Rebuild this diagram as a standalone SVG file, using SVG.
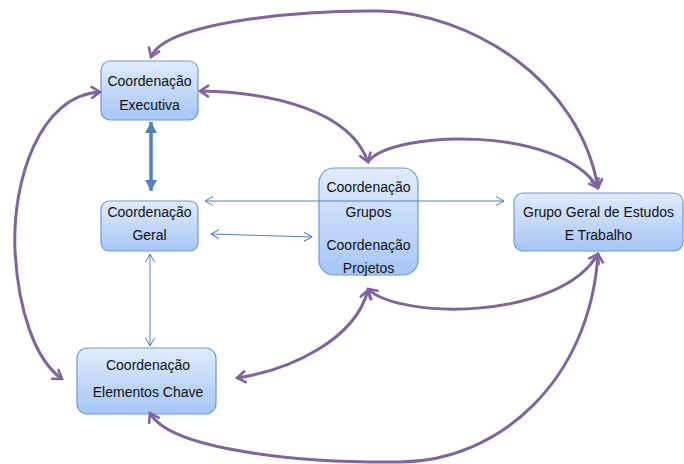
<svg xmlns="http://www.w3.org/2000/svg" width="684" height="464" viewBox="0 0 684 464">
<style>
.box{fill:url(#g);stroke:#6f9ad5;stroke-width:1.2}
.t{font-family:"Liberation Sans",Arial,sans-serif;font-size:14px;fill:#111;text-anchor:middle}
.p{fill:none;stroke:#8064a2;stroke-width:3;marker-start:url(#ap);marker-end:url(#ap)}
.pe{fill:none;stroke:#8064a2;stroke-width:3;marker-end:url(#ap)}
.b{fill:none;stroke:#4f81bd;stroke-width:1;marker-start:url(#ab);marker-end:url(#ab)}
.bt{fill:none;stroke:#4f81bd;stroke-width:3.5;marker-start:url(#abt);marker-end:url(#abt)}
</style>
<defs>
<linearGradient id="g" x1="0" y1="0" x2="0" y2="1">
<stop offset="0" stop-color="#e1ebfb"/>
<stop offset="1" stop-color="#a6c6f6"/>
</linearGradient>
<marker id="ap" markerUnits="userSpaceOnUse" viewBox="-12 -8 14 16" markerWidth="14" markerHeight="16" refX="0" refY="0" orient="auto-start-reverse">
<path d="M-9,-6 L0,0 L-9,6" fill="none" stroke="#8064a2" stroke-width="2.6" stroke-linejoin="miter"/>
</marker>
<marker id="ab" markerUnits="userSpaceOnUse" viewBox="-10 -6 12 12" markerWidth="12" markerHeight="12" refX="0" refY="0" orient="auto-start-reverse">
<path d="M-8,-4.5 L0,0 L-8,4.5" fill="none" stroke="#4f81bd" stroke-width="1"/>
</marker>
<marker id="abt" markerUnits="userSpaceOnUse" viewBox="-12 -8 14 16" markerWidth="14" markerHeight="16" refX="0" refY="0" orient="auto-start-reverse">
<path d="M-11,-6 L0,0 L-11,6 Z" fill="#4f81bd"/>
</marker>
</defs>
<g id="n-executiva">
<rect class="box" x="101" y="61" width="97" height="59" rx="9"/>
<text class="t" x="149.5" y="86">Coordenação</text>
<text class="t" x="149.5" y="110">Executiva</text>
</g>
<g id="n-geral">
<rect class="box" x="101" y="201" width="97" height="50" rx="8"/>
<text class="t" x="149.5" y="217">Coordenação</text>
<text class="t" x="149.5" y="240">Geral</text>
</g>
<g id="n-grupos">
<rect class="box" x="319" y="168" width="99" height="107" rx="15"/>
<text class="t" x="368.5" y="192">Coordenação</text>
<text class="t" x="368.5" y="217">Grupos</text>
<text class="t" x="368.5" y="250">Coordenação</text>
<text class="t" x="368.5" y="273">Projetos</text>
</g>
<g id="n-grupogeral">
<rect class="box" x="514" y="193" width="169" height="58" rx="9"/>
<text class="t" x="598.5" y="217">Grupo Geral de Estudos</text>
<text class="t" x="598.5" y="240">E Trabalho</text>
</g>
<g id="n-elementos">
<rect class="box" x="77" y="348" width="139" height="66" rx="10"/>
<text class="t" x="148" y="370">Coordenação</text>
<text class="t" x="148" y="397">Elementos Chave</text>
</g>
<g id="connectors">
<path class="p" d="M151,57 C165,22 300,10 380,11 C470,13 580,80 598,188"/>
<path class="p" d="M200,91 C270,92 350,110 368,162"/>
<path class="pe" d="M368,162 C390,130 560,125 598,188"/>
<path class="p" d="M368,289 C400,320 560,320 598,254"/>
<path class="p" d="M237,378 C290,370 355,340 368,290"/>
<path class="p" d="M150,413 C170,450 300,463 400,462 C500,461 590,380 598,254"/>
<path class="p" d="M100,92 C40,95 12,180 15,250 C18,310 35,360 62,379"/>
<path class="b" d="M205,201 L504,201"/>
<path class="b" d="M211,234 L312,237"/>
<path class="b" d="M150,254 L150,346"/>
<path class="bt" d="M151,122 L151,191"/>
</g>
</svg>
